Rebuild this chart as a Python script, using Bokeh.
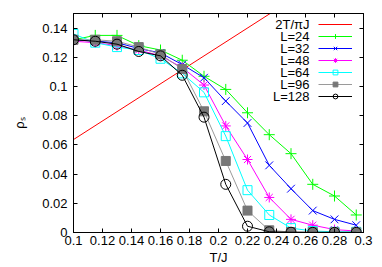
import math
from bokeh.plotting import figure
from bokeh.models import FixedTicker, LinearAxis, Legend, LegendItem, Label, Range1d
from bokeh.embed import file_html
from bokeh.resources import INLINE

# ---- data ----
T = [0.1, 0.115, 0.13, 0.145, 0.16, 0.175, 0.19, 0.205, 0.22, 0.235, 0.25, 0.265, 0.28, 0.295]
rho_L24 = [0.132, 0.135, 0.135, 0.128, 0.125, 0.118, 0.107, 0.098, 0.082, 0.067, 0.054, 0.033, 0.025, 0.012]
rho_L32 = [0.132, 0.131, 0.130, 0.126, 0.123, 0.115, 0.106, 0.090, 0.075, 0.046, 0.030, 0.015, 0.009, 0.005]
rho_L48 = [0.131, 0.130, 0.128, 0.125, 0.121, 0.113, 0.101, 0.073, 0.050, 0.024, 0.009, 0.005, 0.002, 0.001]
rho_L64 = [0.136, 0.130, 0.127, 0.125, 0.119, 0.109, 0.096, 0.066, 0.029, 0.012, 0.003, 0.001, 0.0005, 0.0005]
rho_L96 = [0.132, 0.132, 0.131, 0.127, 0.122, 0.112, 0.083, 0.049, 0.015, 0.0015, 0.0003, 0.0002, 0.0001, 0.0001]
rho_L128 = [0.132, 0.131, 0.129, 0.124, 0.121, 0.1077, 0.079, 0.033, 0.0043, 0.0005, 0.0002, 0.0001, 0.0001, 0.0001]

T_line = [0.1, 0.3]
rho_line = [2 * t / math.pi for t in T_line]

series_labels = ["2T/πJ", "L=24", "L=32", "L=48", "L=64", "L=96", "L=128"]

x_ticks = [0.1, 0.12, 0.14, 0.16, 0.18, 0.2, 0.22, 0.24, 0.26, 0.28, 0.3]
x_tick_labels = ["0.1", "0.12", "0.14", "0.16", "0.18", "0.2", "0.22", "0.24", "0.26", "0.28", "0.3"]
y_ticks = [0, 0.02, 0.04, 0.06, 0.08, 0.1, 0.12, 0.14]
y_tick_labels = ["0", "0.02", "0.04", "0.06", "0.08", "0.1", "0.12", "0.14"]

FONT = "Liberation Sans"
FS = "13px"

p = figure(width=382, height=267, x_range=Range1d(0.1, 0.3), y_range=Range1d(0, 0.15),
           output_backend="svg", toolbar_location=None,
           min_border_left=73, min_border_right=19, min_border_top=13, min_border_bottom=35)
p.grid.visible = False
p.outline_line_color = "black"
p.background_fill_color = "white"
p.border_fill_color = "white"

xa = p.below[0]
xa.ticker = FixedTicker(ticks=x_ticks)
xa.major_label_overrides = {t: s for t, s in zip(x_ticks, x_tick_labels)}
ya = p.left[0]
ya.ticker = FixedTicker(ticks=y_ticks)
ya.major_label_overrides = {t: s for t, s in zip(y_ticks, y_tick_labels)}
for ax in (xa, ya):
    ax.major_tick_in = 4
    ax.major_tick_out = 0
    ax.minor_tick_in = 0
    ax.minor_tick_out = 0
    ax.axis_line_color = "black"
    ax.major_tick_line_color = "black"
    ax.major_label_text_font = FONT
    ax.major_label_text_font_size = FS
    ax.major_label_text_color = "black"
    ax.axis_label_text_font = FONT
    ax.axis_label_text_font_size = FS
    ax.axis_label_text_font_style = "normal"
    ax.axis_label_text_color = "black"
xa.major_label_standoff = 3
xa.axis_label = "T/J"
xa.axis_label_standoff = 2
ya.major_label_standoff = 6
ya.axis_label = "ρₛ"
ya.axis_label_standoff = 12

# mirrored axes (top/right), ticks only
top = LinearAxis(ticker=FixedTicker(ticks=x_ticks), major_label_overrides={t: "" for t in x_ticks},
                 major_label_standoff=0, major_tick_in=4, major_tick_out=0,
                 minor_tick_in=0, minor_tick_out=0, axis_line_color="black")
right = LinearAxis(ticker=FixedTicker(ticks=y_ticks), major_label_overrides={t: "" for t in y_ticks},
                   major_label_standoff=0, major_tick_in=4, major_tick_out=0,
                   minor_tick_in=0, minor_tick_out=0, axis_line_color="black")
p.add_layout(top, "above")
p.add_layout(right, "right")

items = []
r = p.line(T_line, rho_line, line_color="#ff0000", line_width=1)
items.append(LegendItem(label="", renderers=[r]))

styles = [
    (rho_L24, "#00ff00", "#00ff00", "cross", 11, None),
    (rho_L32, "#0000ff", "#0000ff", "x", 11, None),
    (rho_L48, "#ff00ff", "#ff00ff", "asterisk", 10, None),
    (rho_L64, "#00ffff", "#00ffff", "square", 9, None),
    (rho_L96, "#9a9a9a", "#777777", "square", 9, "#777777"),
    (rho_L128, "#000000", "#000000", "circle", 10, None),
]
for ys, lc, mc, mk, sz, fill in styles:
    lr = p.line(T, ys, line_color=lc, line_width=1)
    if fill is None:
        sr = p.scatter(T, ys, marker=mk, size=sz, line_color=mc, fill_alpha=0, line_width=1)
    else:
        sr = p.scatter(T, ys, marker=mk, size=sz, line_color=mc, fill_color=fill, line_width=1)
    items.append(LegendItem(label="", renderers=[lr, sr]))

legend = Legend(items=items, location=(245, 130), glyph_width=34, glyph_height=12,
                label_height=12, label_width=0, label_standoff=0, spacing=0, padding=0,
                margin=0, border_line_alpha=0, background_fill_alpha=0)
p.add_layout(legend, "center")

label_x = 0.2628
label_ys = [0.1425, 0.1342, 0.1260, 0.1178, 0.1096, 0.1014, 0.0932]
for txt, ly in zip(series_labels, label_ys):
    p.add_layout(Label(x=label_x, y=ly, text=txt, text_align="right", text_baseline="middle",
                       text_font=FONT, text_font_size=FS, text_color="black"))

open("out.html", "w").write(file_html(p, INLINE))
